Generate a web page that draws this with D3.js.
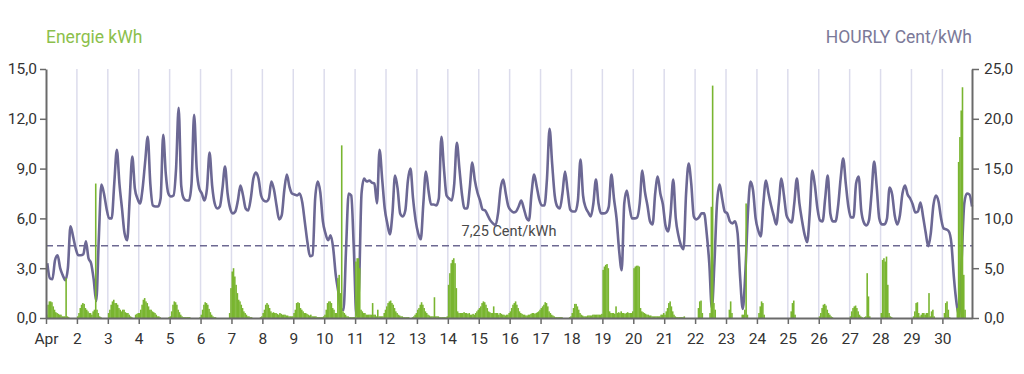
<!DOCTYPE html>
<html>
<head>
<meta charset="utf-8">
<script src="https://cdn.jsdelivr.net/npm/d3@7"></script>
<style>
  body { margin: 0; background: #fff; }
  svg { display: block; font-family: Roboto, "Noto Sans", sans-serif; }
</style>
</head>
<body>
<svg id="chart" width="1024" height="374"></svg>
<script>
// energy per hour in kWh, one row per day (hours 0..23)
var energyKwh = [
  [0.2,0.8,1.0,1.0,0.95,0.7,0.5,0.35,0.3,0.25,0.2,0.2,0.1,0.1,0.1,2.4,0.1,0.05,0,0,0,0,0,0],
  [0.1,0.3,0.6,0.8,0.9,0.85,0.6,0.5,0.4,0.3,0.3,0.2,0.4,0.5,8.1,0.5,0.3,0.1,0.05,0,0,0,0,0],
  [0.3,0.5,0.8,1.0,1.1,0.9,0.9,0.8,0.6,0.5,0.4,0.5,0.5,0.35,0.3,0.3,0.2,0.1,0.05,0,0,0.2,0.25,0.3],
  [0.3,0.5,0.8,1.1,1.2,1.0,0.9,0.7,0.5,0.5,0.4,0.35,0.3,0.2,0.1,0.1,0.05,0,0,0,0,0,0,0.05],
  [0.1,0.4,0.8,1.0,0.95,0.8,0.5,0.35,0.2,0.1,0.05,0.05,0.05,0.05,0.05,0.05,0,0,0,0,0,0,0,0.05],
  [0.2,0.5,0.8,0.95,0.9,0.8,0.55,0.35,0.2,0.1,0.05,0.05,0,0,0,0,0,0,0,0,0,0,0.3,1.8],
  [2.8,3.0,2.5,2.0,1.5,1.1,1.0,0.8,0.6,0.4,0.3,0.2,0.1,0.1,0.05,0.05,0,0,0,0,0,0,0.05,0.1],
  [0.3,0.5,0.8,0.9,0.8,0.6,0.4,0.3,0.35,0.3,0.3,0.25,0.2,0.3,0.25,0.2,0.2,0.2,0.15,0.15,0.1,0.1,0.1,0.1],
  [0.3,0.5,0.9,0.95,0.9,0.6,0.5,0.4,0.3,0.3,0.25,0.2,0.15,0.2,0.1,0.1,0.1,0.1,0.05,0.05,0.05,0.05,0.05,0.1],
  [0.2,0.5,0.9,1.0,1.0,0.9,0.6,0.5,0.3,0.3,2.4,2.6,1.5,10.4,0.4,0.3,0.2,0.1,0.1,0.05,0.05,0.05,0.05,0.05],
  [3.4,3.6,3.6,3.0,0.5,0.4,0.3,0.3,0.2,0.2,0.2,0.2,0.2,0.9,0.2,0.2,0.1,0.5,0.1,0.1,0.1,0.1,0.3,0.5],
  [0.7,0.9,1.0,1.05,0.9,0.8,0.6,0.4,0.3,0.2,0.15,0.1,0.1,0.05,0.05,0.05,0.05,0.05,0,0,0.05,0.1,0.2,0.3],
  [0.5,0.6,0.8,0.95,0.8,0.6,0.4,0.3,0.2,0.15,0.1,0.1,0.1,1.25,0.1,0.1,0.1,0.05,0.05,0.05,0.05,0.05,0.05,0.1],
  [2.0,2.7,3.3,3.5,3.6,3.3,1.8,0.4,0.3,0.3,0.3,0.3,0.35,0.3,0.3,0.25,0.3,0.2,0.2,0.25,0.2,0.3,0.4,0.5],
  [0.6,0.7,0.9,1.0,0.95,0.8,0.6,0.4,0.35,0.3,0.3,0.7,0.3,0.3,0.3,0.2,0.3,0.25,0.2,0.2,0.15,0.2,0.2,0.3],
  [0.4,0.6,0.8,0.9,1.0,0.8,0.6,0.4,0.3,0.25,0.2,0.2,0.15,0.15,0.2,0.2,0.25,0.3,0.3,0.25,0.3,0.35,0.4,0.5],
  [0.6,0.7,0.8,0.95,0.9,0.7,0.4,0.3,0.2,0.15,0.1,0.05,0.05,0.05,0.05,0.05,0.05,0,0,0,0,0,0.05,0.1],
  [0.3,0.6,0.85,0.85,0.7,0.5,0.3,0.2,0.15,0.1,0.1,0.1,0.15,0.15,0.15,0.15,0.2,0.2,0.2,0.2,0.2,0.2,0.2,0.25],
  [2.9,3.1,3.2,3.25,3.0,0.4,0.3,0.3,0.3,0.25,0.7,0.3,0.35,0.3,0.4,0.3,0.3,0.25,0.3,0.35,0.3,0.3,0.3,0.4],
  [3.0,3.1,3.15,3.15,3.1,0.6,0.4,0.35,0.3,0.25,0.2,0.2,0.15,0.15,0.1,0.1,0.1,0.1,0.1,0.1,0.1,0.2,0.2,0.3],
  [0.2,0.4,0.6,0.9,1.0,0.7,0.4,0.2,0.1,0.05,0.05,0.05,0.05,0.05,0.05,0.1,0,0,0,0,0,0,0,0],
  [0,0,0.6,1.0,1.05,0.3,0,0,0,0,0,0.3,6.7,14.0,0.9,0.5,0,0,0,0,0,0,0,0],
  [0,0,0.5,1.0,0.3,0,0,0,0,0,0,0,0.2,0.2,0.5,6.9,0.2,0,0,0,0,0,0,0],
  [0,0.3,0.7,1.0,0.9,0.2,0,0,0,0,0,0,0,0,0,0,0,0,0,0,0,0,0,0],
  [0,0,0.4,0.9,1.05,0.2,0,0,0,0,0,0,0,0,0,0,0,0,0,0,0,0,0,0],
  [0.1,0.3,0.6,0.8,0.85,0.75,0.5,0.3,0.2,0.1,0.05,0,0,0,0,0,0,0,0,0,0,0,0,0],
  [0.1,0.4,0.6,0.7,0.75,0.6,0.4,0.2,0.1,0.05,0,0.05,0.1,2.7,1.3,0.1,0,0,0,0,0,0,0,0],
  [0.3,3.5,3.6,3.4,3.7,2.0,0.3,0.1,0.05,0,0,0,0,0,0,0,0,0,0,0,0,0,0,0],
  [0,0.1,0.4,0.9,0.95,0.3,0.1,0.2,0.3,0.3,0.2,0.3,0.3,1.5,0.1,0.4,0.5,0.1,0,0,0,0,0,0],
  [0,0.3,0.9,1.0,0.5,0.05,0,0,0,0,0,0.6,9.4,10.9,12.5,13.9,2.6,0.5,0,0,0,0,0,0]
];

// price in Cent/kWh, every second hour (01:00, 03:00 ... 23:00), one row per day
var priceCent = [
  [5.5,4.0,3.9,5.8,6.3,5.0,4.3,3.8,5.0,9.2,8.2,7.0],
  [6.3,6.3,6.4,7.7,6.0,5.5,3.9,1.7,8.0,13.4,12.5,11.0],
  [10.0,10.0,13.5,16.9,13.5,11.0,8.5,7.8,12.0,16.2,13.0,12.0],
  [11.5,13.0,15.7,18.2,13.5,11.3,11.2,11.2,12.0,18.4,14.5,12.5],
  [12.2,12.3,15.0,21.1,13.3,12.0,11.8,11.8,13.5,20.4,15.0,13.0],
  [12.5,11.8,13.0,16.6,13.3,11.5,11.0,11.2,13.0,15.2,12.5,11.0],
  [10.5,10.7,11.8,13.3,12.3,11.0,10.8,12.0,14.0,14.6,14.0,12.3],
  [11.8,11.7,12.0,13.7,12.9,11.3,9.9,10.3,12.8,14.4,13.2,12.5],
  [12.4,12.3,12.5,11.6,9.6,7.6,6.2,6.3,12.0,13.7,12.6,9.7],
  [8.5,7.8,8.3,7.0,4.3,2.6,0.9,0.8,7.0,12.5,12.3,7.0],
  [0.3,3.0,12.5,14.0,13.7,13.8,13.6,13.5,11.5,16.9,14.0,11.0],
  [9.5,8.4,10.5,14.3,13.0,10.5,10.2,10.8,13.8,15.0,12.0,9.8],
  [8.5,7.9,11.5,14.7,12.8,11.4,11.4,11.3,12.0,18.2,15.0,12.3],
  [12.0,11.8,13.5,17.6,15.0,12.4,11.0,11.0,13.0,15.6,13.8,12.6],
  [11.8,10.9,10.8,10.3,9.8,9.5,9.3,10.5,13.0,13.9,12.5,11.2],
  [10.8,10.6,10.7,11.2,11.8,11.0,10.1,9.8,12.5,14.4,13.2,11.9],
  [11.3,11.3,14.0,19.0,15.5,12.3,11.2,11.0,12.5,14.7,12.8,10.9],
  [10.7,10.7,11.8,15.9,12.3,11.1,10.6,10.2,11.5,13.9,11.5,10.5],
  [10.5,10.6,11.2,14.4,12.0,10.0,6.8,4.8,11.5,12.8,11.2,10.0],
  [10.0,10.1,11.5,14.8,12.7,11.3,9.7,9.4,12.5,14.2,12.5,11.4],
  [9.3,8.7,10.5,13.9,10.0,8.3,7.3,6.9,12.5,15.5,13.5,10.2],
  [9.9,10.1,10.5,10.5,8.5,5.5,1.0,5.5,11.5,13.4,12.0,10.7],
  [10.5,9.7,9.5,9.7,8.5,4.0,0.9,4.5,10.5,13.7,12.8,10.0],
  [8.8,8.2,11.5,13.8,12.5,11.3,10.3,9.4,11.5,14.0,12.3,10.3],
  [9.8,9.6,11.5,14.0,11.5,9.8,8.4,7.6,10.5,14.8,13.3,11.0],
  [9.8,9.7,12.0,14.3,10.5,9.7,9.7,11.2,14.0,16.0,13.5,11.2],
  [10.1,10.1,13.5,14.2,10.8,9.6,9.3,9.8,12.5,15.7,13.2,10.0],
  [9.4,9.4,10.0,13.1,12.4,10.3,9.4,10.3,12.5,13.3,12.4,12.0],
  [11.4,10.6,10.7,11.6,10.2,8.6,7.2,8.5,11.3,12.3,11.7,10.0],
  [9.0,8.9,8.7,7.5,4.0,1.5,0.2,6.0,11.5,12.5,12.4,11.2]
];

var dayLabels = ["Apr","2","3","4","5","6","7","8","9","10","11","12","13","14","15",
  "16","17","18","19","20","21","22","23","24","25","26","27","28","29","30"];
var energyTicks = [0, 3, 6, 9, 12, 15];
var priceTicks = [0, 5, 10, 15, 20, 25];
var refPrice = 7.25;

var margin = {top: 69, right: 52, bottom: 56, left: 46};
var width = 1024 - margin.left - margin.right;
var height = 374 - margin.top - margin.bottom;

var HOUR = 3600 * 1000;
var start = Date.UTC(2021, 3, 1);
var nDays = energyKwh.length;

// german number format: 15,0
var de = d3.formatLocale({decimal: ",", thousands: ".", grouping: [3], currency: ["", " €"]});
var fmt = de.format(".1f");

var x = d3.scaleUtc()
    .domain([new Date(start), new Date(start + (nDays * 24 - 1) * HOUR)])
    .range([0, width]);
var yLeft = d3.scaleLinear().domain([0, 15]).range([height, 0]);
var yRight = d3.scaleLinear().domain([0, 25]).range([height, 0]);

var svg = d3.select("#chart");
var g = svg.append("g")
    .attr("transform", "translate(" + margin.left + "," + margin.top + ")");

var dayStarts = d3.range(nDays).map(function(i) { return new Date(start + i * 24 * HOUR); });

// vertical day grid
g.selectAll(".grid")
    .data(dayStarts.slice(1))
    .enter()
    .append("line")
    .attr("class", "grid")
    .attr("x1", function(d) { return x(d); })
    .attr("x2", function(d) { return x(d); })
    .attr("y1", 0)
    .attr("y2", height)
    .attr("stroke", "#dcdcec")
    .attr("stroke-width", 1.5);

// reference price line
g.append("line")
    .attr("x1", 0)
    .attr("x2", width)
    .attr("y1", yRight(refPrice))
    .attr("y2", yRight(refPrice))
    .attr("stroke", "#6d6992")
    .attr("stroke-width", 1.5)
    .attr("stroke-dasharray", "7,4");

g.append("text")
    .attr("x", width / 2)
    .attr("y", yRight(refPrice) - 10)
    .attr("text-anchor", "middle")
    .attr("fill", "#4a4a4a")
    .style("font-size", "14.5px")
    .text(de.format(".2f")(refPrice) + " Cent/kWh");

// price line
var priceData = d3.merge(priceCent).map(function(v, i) {
    return {t: new Date(start + (2 * i + 1) * HOUR), v: v};
});
var line = d3.line()
    .x(function(d) { return x(d.t); })
    .y(function(d) { return yRight(d.v); })
    .curve(d3.curveMonotoneX);

g.append("path")
    .datum(priceData)
    .attr("d", line)
    .attr("fill", "none")
    .attr("stroke", "#6c6894")
    .attr("stroke-width", 2.6)
    .attr("stroke-linejoin", "round");

// energy bars
var energyData = d3.merge(energyKwh).map(function(v, i) {
    return {t: new Date(start + i * HOUR), v: v};
});
var barW = x(new Date(start + HOUR)) - x(new Date(start));

g.selectAll(".bar")
    .data(energyData.filter(function(d) { return d.v > 0; }))
    .enter()
    .append("rect")
    .attr("class", "bar")
    .attr("x", function(d) { return x(d.t); })
    .attr("width", barW + 0.3)
    .attr("y", function(d) { return yLeft(d.v); })
    .attr("height", function(d) { return height - yLeft(d.v); })
    .attr("fill", "#79b530");

// axes
var xAxis = d3.axisBottom(x)
    .tickValues(dayStarts)
    .tickSize(6)
    .tickSizeOuter(0)
    .tickPadding(9)
    .tickFormat(function(d, i) { return dayLabels[i]; });
var leftAxis = d3.axisLeft(yLeft)
    .tickValues(energyTicks)
    .tickSize(6)
    .tickSizeOuter(0)
    .tickPadding(3)
    .tickFormat(fmt);
var rightAxis = d3.axisRight(yRight)
    .tickValues(priceTicks)
    .tickSize(7)
    .tickSizeOuter(0)
    .tickPadding(5)
    .tickFormat(fmt);

var gx = g.append("g").attr("transform", "translate(0," + height + ")").call(xAxis);
var gl = g.append("g").call(leftAxis);
var gr = g.append("g").attr("transform", "translate(" + width + ",0)").call(rightAxis);

[gx, gl, gr].forEach(function(a) {
    a.select(".domain").attr("stroke", "#6a6a6a").attr("stroke-width", 2);
    a.selectAll(".tick line").attr("stroke", "#6a6a6a").attr("stroke-width", 1.5);
    a.selectAll(".tick text")
        .attr("fill", "#333")
        .style("font-size", "15.5px")
        .style("font-family", "Roboto, sans-serif");
});

// axis titles
svg.append("text")
    .attr("x", margin.left)
    .attr("y", 43)
    .attr("fill", "#8cbf4c")
    .style("font-size", "17.5px")
    .text("Energie kWh");

svg.append("text")
    .attr("x", margin.left + width)
    .attr("y", 43)
    .attr("text-anchor", "end")
    .attr("fill", "#7b7998")
    .style("font-size", "17.5px")
    .text("HOURLY Cent/kWh");
</script>
</body>
</html>
